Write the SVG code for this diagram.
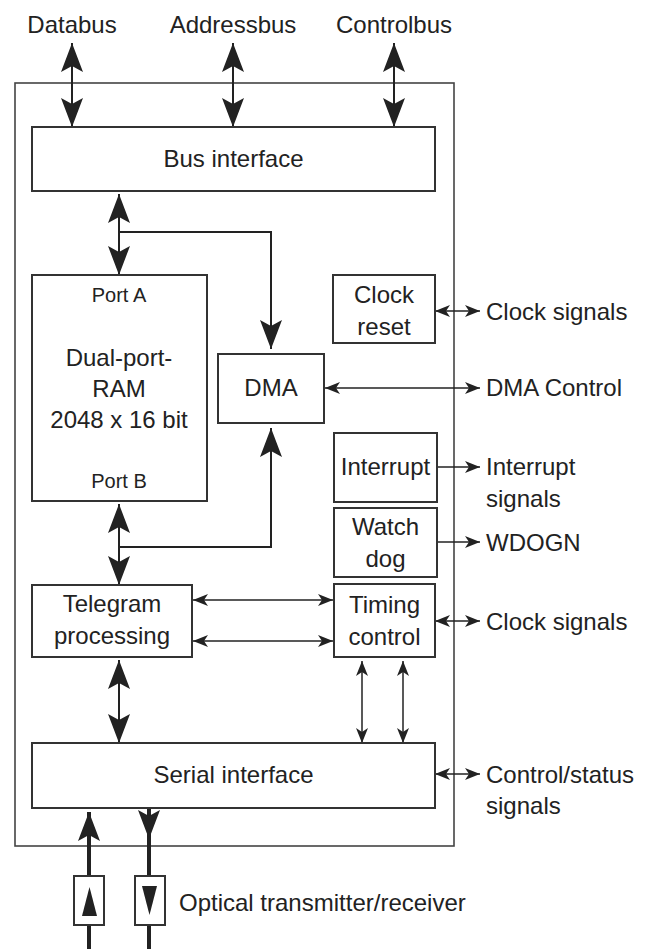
<svg xmlns="http://www.w3.org/2000/svg" width="647" height="949" viewBox="0 0 647 949">
<style>
.box{fill:#fff;stroke:#333;stroke-width:2}
.outer{fill:none;stroke:#444;stroke-width:1.6}
text{font-family:"Liberation Sans",Arial,sans-serif;font-size:24px;fill:#222}
.c{text-anchor:middle}
.port{font-size:20px}
.w{fill:none;stroke:#222;stroke-width:2}
.thin{fill:none;stroke:#222;stroke-width:1.5}
.opt{fill:none;stroke:#222;stroke-width:4}
</style>
<defs>
<marker id="big" viewBox="0 0 29 22" refX="29" refY="11" markerWidth="29" markerHeight="22" markerUnits="userSpaceOnUse" orient="auto-start-reverse">
<path d="M0,0 L29,11 L0,22 L6,11 Z" fill="#222"/>
</marker>
<marker id="sm" viewBox="0 0 15 12" refX="15" refY="6" markerWidth="15" markerHeight="12" markerUnits="userSpaceOnUse" orient="auto-start-reverse">
<path d="M0,0 L15,6 L0,12 L4,6 Z" fill="#222"/>
</marker>
</defs>
<rect class="outer" x="15" y="83" width="439" height="763"/>
<g id="labels-top">
<text class="c" x="72" y="33">Databus</text>
<text class="c" x="233" y="33">Addressbus</text>
<text class="c" x="394" y="33">Controlbus</text>
</g>
<g id="connectors">
<line class="w" x1="72" y1="43" x2="72" y2="127" marker-start="url(#big)" marker-end="url(#big)"/>
<line class="w" x1="233" y1="43" x2="233" y2="127" marker-start="url(#big)" marker-end="url(#big)"/>
<line class="w" x1="394" y1="43" x2="394" y2="127" marker-start="url(#big)" marker-end="url(#big)"/>
<line class="w" x1="119" y1="194" x2="119" y2="275" marker-start="url(#big)" marker-end="url(#big)"/>
<polyline class="w" points="119,232 271,232 271,349" marker-end="url(#big)"/>
<line class="w" x1="119" y1="504" x2="119" y2="585" marker-start="url(#big)" marker-end="url(#big)"/>
<polyline class="w" points="119,547 271,547 271,428" marker-end="url(#big)"/>
<line class="w" x1="119" y1="660" x2="119" y2="743" marker-start="url(#big)" marker-end="url(#big)"/>
<line class="thin" x1="435" y1="311" x2="480" y2="311" marker-start="url(#sm)" marker-end="url(#sm)"/>
<line class="thin" x1="325" y1="388" x2="480" y2="388" marker-start="url(#sm)" marker-end="url(#sm)"/>
<line class="thin" x1="437" y1="467" x2="480" y2="467" marker-end="url(#sm)"/>
<line class="thin" x1="437" y1="542" x2="480" y2="542" marker-end="url(#sm)"/>
<line class="thin" x1="193" y1="600" x2="333" y2="600" marker-start="url(#sm)" marker-end="url(#sm)"/>
<line class="thin" x1="193" y1="641" x2="333" y2="641" marker-start="url(#sm)" marker-end="url(#sm)"/>
<line class="thin" x1="435" y1="621" x2="480" y2="621" marker-start="url(#sm)" marker-end="url(#sm)"/>
<line class="thin" x1="362" y1="661" x2="362" y2="743" marker-start="url(#sm)" marker-end="url(#sm)"/>
<line class="thin" x1="403" y1="661" x2="403" y2="743" marker-start="url(#sm)" marker-end="url(#sm)"/>
<line class="thin" x1="435" y1="774" x2="480" y2="774" marker-start="url(#sm)" marker-end="url(#sm)"/>
<line class="opt" x1="89" y1="949" x2="89" y2="812" marker-end="url(#big)"/>
<line class="opt" x1="149" y1="808" x2="149" y2="949"/>
<polygon points="138,810 149,816 160,810 149,839" fill="#222"/>
</g>
<g id="bus-interface">
<rect class="box" x="32" y="127" width="403" height="64"/>
<text class="c" x="233.5" y="167">Bus interface</text>
</g>
<g id="ram">
<rect class="box" x="32" y="275" width="175" height="226"/>
<text class="c port" x="119" y="302">Port A</text>
<text class="c" x="119" y="366">Dual-port-</text>
<text class="c" x="119" y="397">RAM</text>
<text class="c" x="119" y="428">2048 x 16 bit</text>
<text class="c port" x="119" y="488">Port B</text>
</g>
<g id="dma">
<rect class="box" x="218" y="354" width="106" height="69"/>
<text class="c" x="271" y="396">DMA</text>
</g>
<g id="clock-reset">
<rect class="box" x="333" y="275" width="102" height="68"/>
<text class="c" x="384" y="303">Clock</text>
<text class="c" x="384" y="335">reset</text>
</g>
<g id="interrupt">
<rect class="box" x="334" y="433" width="103" height="69"/>
<text class="c" x="385.5" y="475">Interrupt</text>
</g>
<g id="watchdog">
<rect class="box" x="334" y="508" width="103" height="69"/>
<text class="c" x="385.5" y="535">Watch</text>
<text class="c" x="385.5" y="567">dog</text>
</g>
<g id="telegram">
<rect class="box" x="32" y="585" width="160" height="72"/>
<text class="c" x="112" y="612">Telegram</text>
<text class="c" x="112" y="644">processing</text>
</g>
<g id="timing">
<rect class="box" x="334" y="584" width="101" height="73"/>
<text class="c" x="384.5" y="613">Timing</text>
<text class="c" x="384.5" y="645">control</text>
</g>
<g id="serial-interface">
<rect class="box" x="32" y="743" width="403" height="65"/>
<text class="c" x="233.5" y="783">Serial interface</text>
</g>
<g id="optical">
<rect class="box" x="74" y="876" width="30" height="49"/>
<polygon points="89.5,887 82,916 97,916" fill="#222"/>
<rect class="box" x="135" y="876" width="30" height="49"/>
<polygon points="142,886 157,886 149.5,915" fill="#222"/>
<text x="179" y="911">Optical transmitter/receiver</text>
</g>
<g id="labels-right">
<text x="486" y="320">Clock signals</text>
<text x="486" y="396">DMA Control</text>
<text x="486" y="475">Interrupt</text>
<text x="486" y="507">signals</text>
<text x="486" y="551">WDOGN</text>
<text x="486" y="630">Clock signals</text>
<text x="486" y="783">Control/status</text>
<text x="486" y="814">signals</text>
</g>
</svg>
